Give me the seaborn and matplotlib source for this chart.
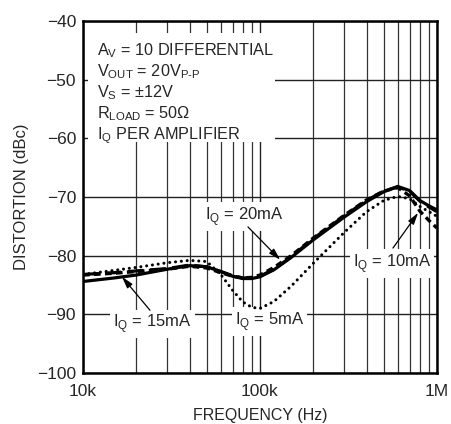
import numpy as np
import pandas as pd
import seaborn as sns
import matplotlib.pyplot as plt
from matplotlib.ticker import LogLocator, FixedLocator, NullFormatter
from matplotlib.patches import Rectangle

# frequencias (Hz) e distorcao (dBc)
freq = [10e3, 15e3, 20e3, 30e3, 40e3, 50e3, 60e3, 70e3, 80e3, 90e3, 100e3,
        120e3, 150e3, 200e3, 300e3, 400e3, 500e3, 600e3, 700e3, 800e3, 900e3, 1e6]
iq_20ma = [-84.4, -83.8, -83.3, -82.3, -81.7, -81.9, -82.7, -83.5, -83.9, -83.9, -83.6,
           -82.4, -80.3, -77.3, -73.4, -70.8, -69.1, -68.2, -68.9, -70.6, -71.5, -72.2]
iq_15ma = [-83.2, -82.9, -82.6, -82.2, -81.6, -81.9, -82.7, -83.4, -83.8, -83.8, -83.5,
           -82.3, -80.2, -77.1, -73.2, -70.6, -69.0, -68.3, -69.0, -70.7, -71.7, -72.5]
iq_10ma = [-83.3, -83.0, -82.7, -82.3, -81.8, -82.1, -82.9, -83.5, -83.8, -83.7, -83.3,
           -82.0, -80.0, -77.0, -73.1, -70.5, -69.0, -68.4, -69.8, -72.4, -74.0, -75.3]
iq_5ma = [-83.2, -82.5, -82.0, -81.2, -80.8, -81.0, -83.2, -85.9, -87.9, -88.8, -89.0,
          -87.8, -85.2, -81.3, -76.0, -72.5, -70.6, -69.9, -70.3, -71.6, -72.5, -73.3]

notes = [r'A$_\mathregular{V}$ = 10 DIFFERENTIAL',
         r'V$_\mathregular{OUT}$ = 20V$_\text{P-P}$',
         r'V$_\mathregular{S}$ = $\mathregular{\pm}$12V',
         r'R$_\mathregular{LOAD}$ = 50$\mathregular{\Omega}$',
         r'I$_\mathregular{Q}$ PER AMPLIFIER']

sns.set_style("white")
plt.rcParams['font.family'] = ['Liberation Sans', 'DejaVu Sans']
plt.rcParams['mathtext.fontset'] = 'custom'
plt.rcParams['mathtext.rm'] = 'Liberation Sans'

fig = plt.figure(figsize=(4.52, 4.24), dpi=100)
ax = fig.add_axes([83 / 452, 1 - 373 / 424, 354 / 452, 352 / 424])

# curvas
sns.lineplot(x=freq, y=iq_20ma, ax=ax, color='black', lw=2.3, zorder=4)
sns.lineplot(x=freq, y=iq_15ma, ax=ax, color='black', lw=2.3, zorder=3,
             linestyle=(0, (5, 2)))
sns.lineplot(x=freq, y=iq_10ma, ax=ax, color='black', lw=2.4, zorder=3,
             linestyle=(0, (2, 1.3)))
l5 = sns.lineplot(x=freq, y=iq_5ma, ax=ax, color='black', lw=2.2, zorder=3)
l5.lines[-1].set_linestyle((0, (0.01, 1.9)))
l5.lines[-1].set_dash_capstyle('round')

ax.set_xscale('log')
ax.set_xlim(1e4, 1e6)
ax.set_ylim(-100, -40)
ax.xaxis.set_major_locator(FixedLocator([1e4, 1e5, 1e6]))
ax.set_xticklabels(['10k', '100k', '1M'])
ax.xaxis.set_minor_locator(LogLocator(base=10, subs=np.arange(2, 10)))
ax.xaxis.set_minor_formatter(NullFormatter())
ax.set_yticks(np.arange(-100, -39, 10))
ax.set_yticklabels(['\u2212' + str(abs(v)) for v in range(-100, -39, 10)])
ax.set_axisbelow(True)
ax.grid(which='major', color='#222222', lw=1.0)
ax.grid(which='minor', axis='x', color='#333333', lw=0.9)
ax.tick_params(which='both', length=0, labelsize=12.5)
ax.tick_params(axis='y', pad=5)
ax.tick_params(axis='x', pad=8)
for s in ax.spines.values():
    s.set_linewidth(1.8)
    s.set_color('black')

ax.set_xlabel('FREQUENCY (Hz)', fontsize=11.5, labelpad=6.5)
ax.set_ylabel('DISTORTION (dBc)', fontsize=12, labelpad=6)

# caixa branca com as condicoes
ax.add_patch(Rectangle((0.014, 0.656), 0.528, 0.31, transform=ax.transAxes,
                       facecolor='white', edgecolor='none', zorder=1))
for i, t in enumerate(notes):
    ax.text(0.0395, (373 - 55 - 21 * i) / 352, t, transform=ax.transAxes,
            fontsize=11.7, va='baseline', ha='left', zorder=5)

# rotulos das curvas
box = dict(facecolor='white', edgecolor='none', pad=2)
ax.text(48.9e3, -73.9, r'I$_\mathregular{Q}$ = 20mA', fontsize=12, va='baseline', bbox=box, zorder=2)
ax.text(335e3, -81.9, r'I$_\mathregular{Q}$ = 10mA', fontsize=12, va='baseline', bbox=box, zorder=2)
ax.text(14.8e3, -92.2, r'I$_\mathregular{Q}$ = 15mA', fontsize=12, va='baseline', bbox=box, zorder=2)
ax.text(72.3e3, -91.8, r'I$_\mathregular{Q}$ = 5mA', fontsize=12, va='baseline', bbox=box, zorder=2)

arrow = dict(arrowstyle='-|>,head_length=0.7,head_width=0.2', lw=0.9,
             color='black', shrinkA=0, shrinkB=0)
ax.annotate('', xy=(130e3, -80.7), xytext=(85.5e3, -75.1), arrowprops=arrow, zorder=6)
ax.annotate('', xy=(782e3, -72.7), xytext=(564e3, -78.7), arrowprops=arrow, zorder=6)
ax.annotate('', xy=(16.6e3, -83.6), xytext=(23.9e3, -89.3), arrowprops=arrow, zorder=6)

# titulo cortado no topo (so as hastes descendentes aparecem)
fig.text(86 / 452, 1 + 4.5 / 424, 'Frequency', fontsize=17, fontweight='bold',
         va='baseline', ha='left')

plt.savefig('out.png', dpi=100)
